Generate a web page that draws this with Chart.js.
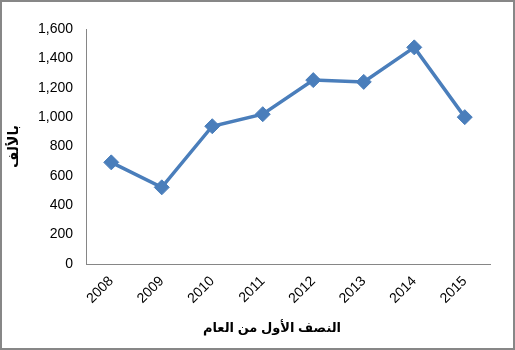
<!DOCTYPE html>
<html>
<head>
<meta charset="utf-8">
<script src="https://cdn.jsdelivr.net/npm/chart.js@4"></script>
<style>
  body { margin: 0; background: #fff; }
  #wrap { width: 515px; height: 350px; box-sizing: border-box; border: 2px solid #878787; background: #fff; }
  canvas { display: block; }
</style>
</head>
<body>
<div id="wrap"><canvas id="lineChart" width="511" height="346"></canvas></div>
<script>
// data (thousands)
const years = ["2008", "2009", "2010", "2011", "2012", "2013", "2014", "2015"];
const values = [692, 522, 938, 1020, 1252, 1240, 1475, 1000];
const yTicks = [0, 200, 400, 600, 800, 1000, 1200, 1400, 1600];

const xTitle = "النصف الأول من العام";
const yTitle = "بالألف";

const fontFamily = "'Liberation Sans', 'DejaVu Sans', sans-serif";
const axisColor = "#868686";
const lineColor = "#4A7EBB";

// the x title in the original sits a bit left of the plot centre
const xTitlePlugin = {
    id: "xTitle",
    afterDraw(chart) {
        const { ctx, chartArea } = chart;
        ctx.save();
        ctx.font = "bold 13px " + fontFamily;
        ctx.fillStyle = "#000";
        ctx.textAlign = "center";
        ctx.textBaseline = "middle";
        ctx.fillText(xTitle, (chartArea.left + chartArea.right) / 2 - 16, chart.height - 20);
        ctx.restore();
    }
};

const ctx = document.getElementById("lineChart");
new Chart(ctx, {
    type: "line",
    data: {
        labels: years,
        datasets: [{
            data: values,
            borderColor: lineColor,
            backgroundColor: lineColor,
            borderWidth: 3.5,
            pointStyle: "rectRot",
            pointRadius: 7.5,
            pointHoverRadius: 7.5,
            pointBorderWidth: 1,
            tension: 0
        }]
    },
    options: {
        responsive: false,
        animation: false,
        layout: { padding: { top: 27, right: 23, bottom: 0, left: 0 } },
        plugins: { legend: { display: false }, tooltip: { enabled: false } },
        scales: {
            x: {
                offset: true,
                grid: { display: false, drawTicks: false },
                border: { display: true, color: axisColor, width: 1 },
                ticks: {
                    color: "#000",
                    font: { family: fontFamily, size: 14 },
                    minRotation: 45,
                    maxRotation: 45,
                    padding: 9
                },
                afterFit: scale => { scale.height = 84; }
            },
            y: {
                min: 0,
                max: 1600,
                afterBuildTicks: scale => { scale.ticks = yTicks.map(v => ({ value: v })); },
                grid: { display: false, drawTicks: false },
                border: { display: true, color: axisColor, width: 1 },
                ticks: {
                    color: "#000",
                    font: { family: fontFamily, size: 14 },
                    padding: 13,
                    callback: v => v.toLocaleString("en-US")
                },
                title: {
                    display: true,
                    text: yTitle,
                    color: "#000",
                    font: { family: fontFamily, size: 14, weight: "bold" },
                    padding: { top: 4, bottom: 4 }
                },
                afterFit: scale => { scale.width = 84; }
            }
        }
    },
    plugins: [xTitlePlugin]
});
</script>
</body>
</html>
